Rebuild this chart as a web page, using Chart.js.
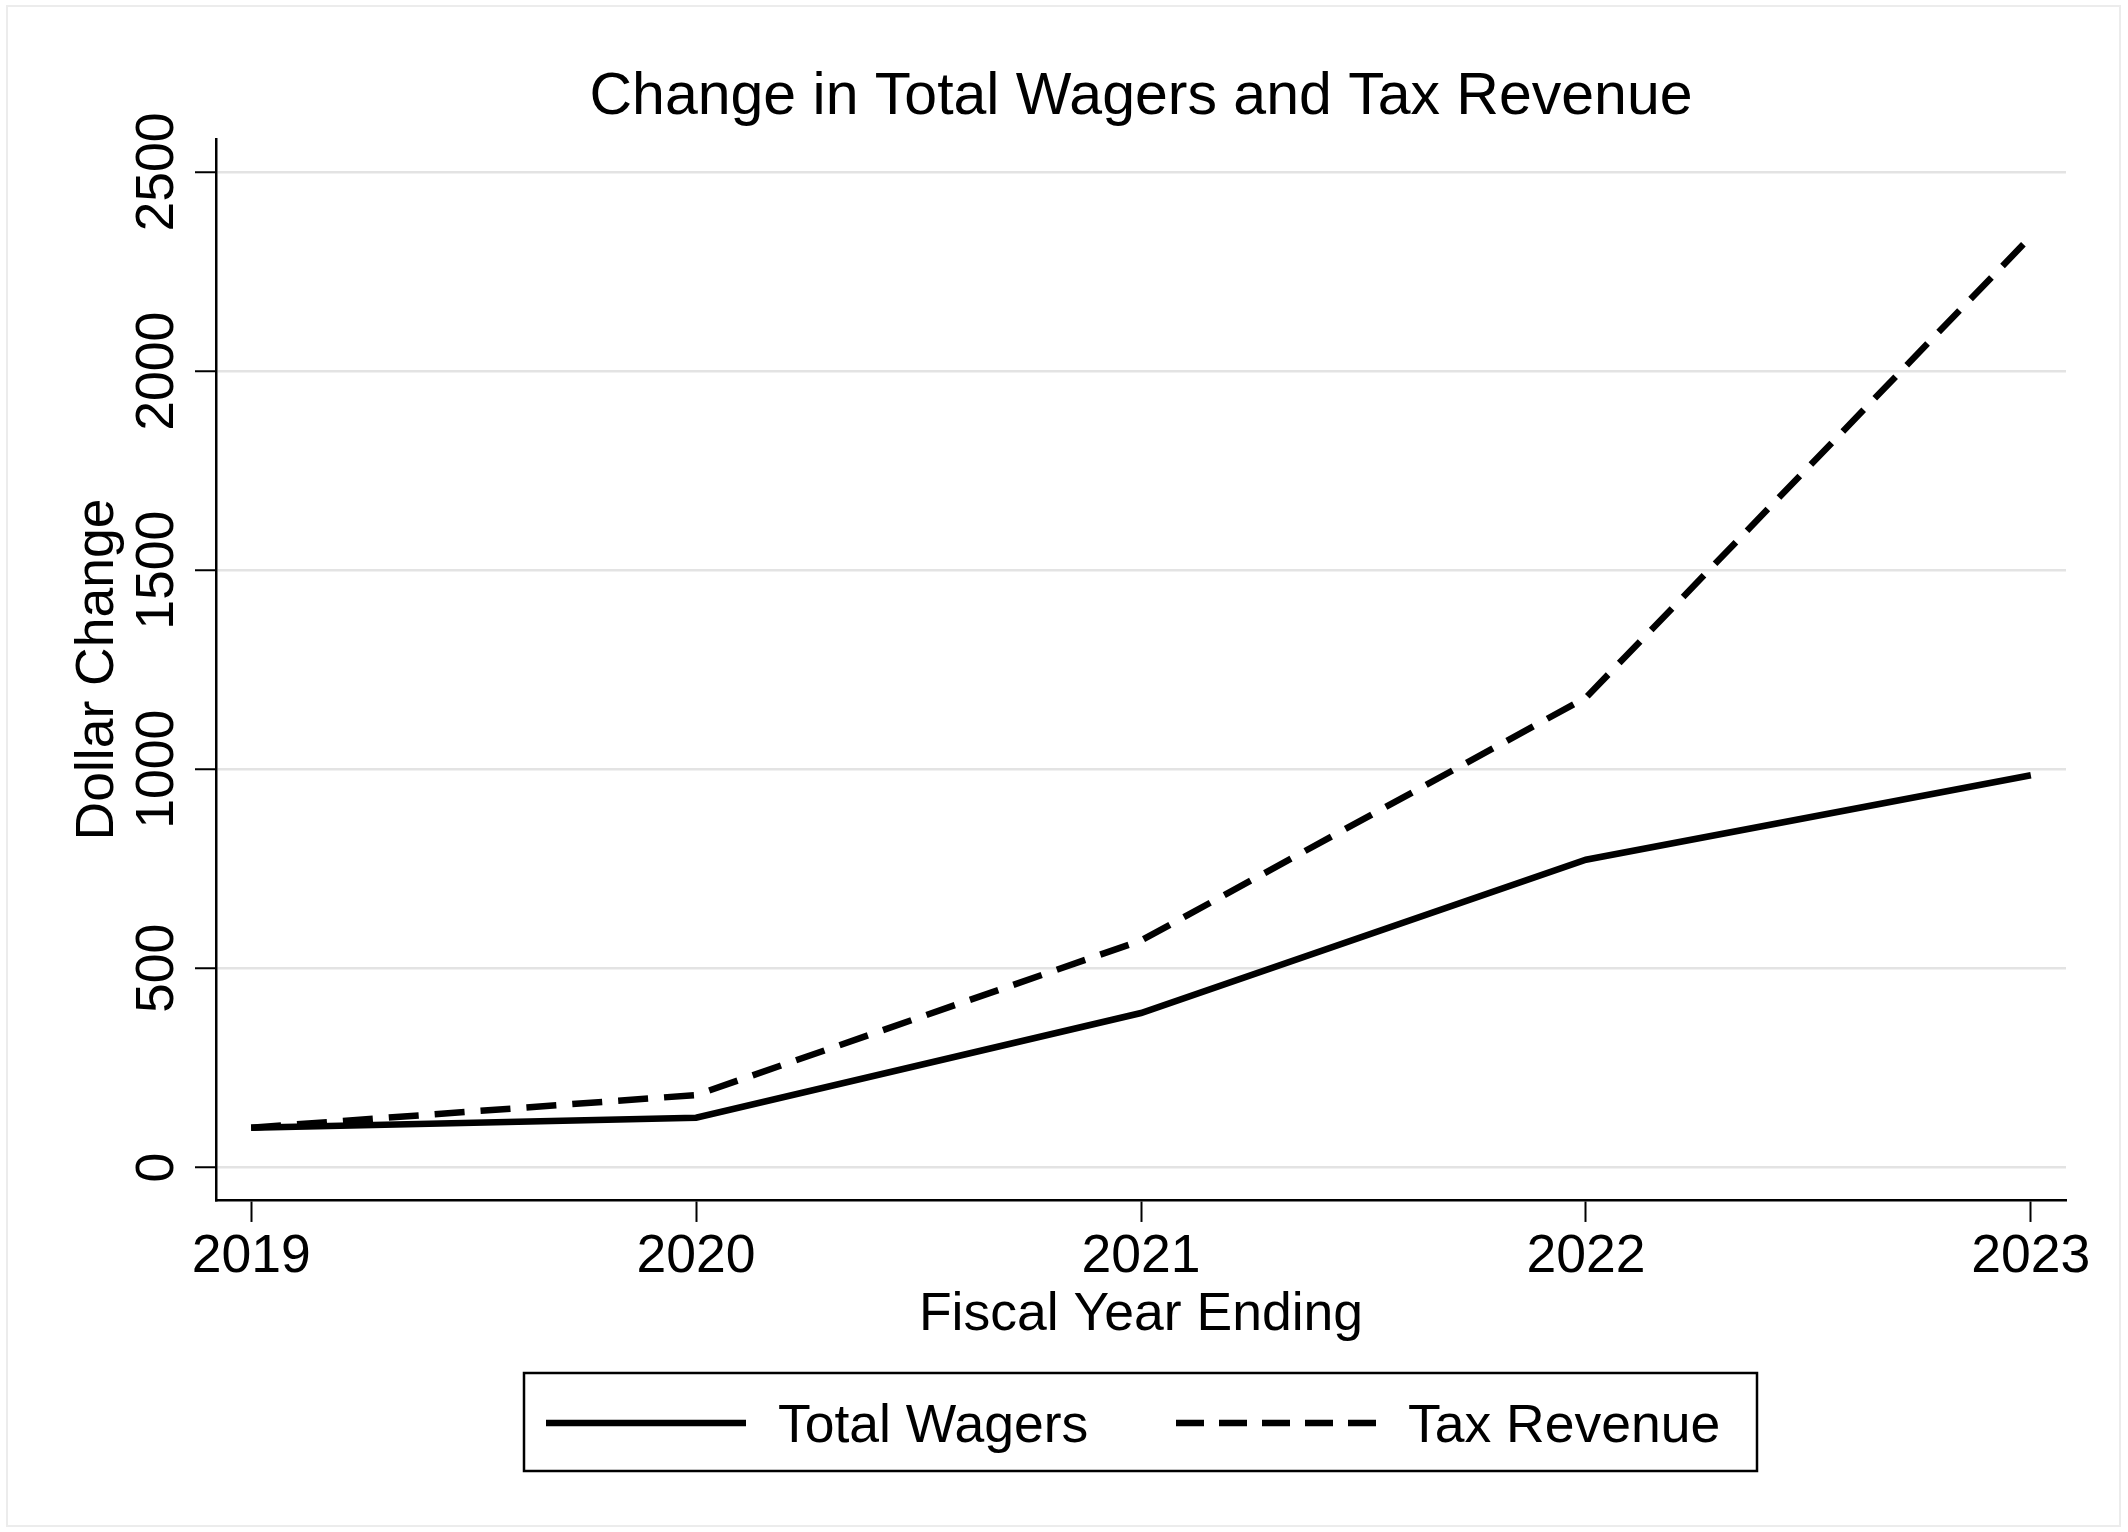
<!DOCTYPE html>
<html>
<head>
<meta charset="utf-8">
<title>Change in Total Wagers and Tax Revenue</title>
<script src="https://cdn.jsdelivr.net/npm/chart.js@4.4.1/dist/chart.umd.min.js"></script>
<style>
    html, body { margin: 0; padding: 0; background: #fff; overflow: hidden; }
    canvas { display: block; }
</style>
</head>
<body>
<canvas id="canvas" width="2128" height="1532"></canvas>
<script>
let years = [2019, 2020, 2021, 2022, 2023]
let totalWagers = [100, 125, 388, 773, 985]
let taxRevenue = [100, 182, 570, 1180, 2338]
let yTicks = [0, 500, 1000, 1500, 2000, 2500]
let seriesLabels = ['Total Wagers', 'Tax Revenue']

const fontFamily = "'Liberation Sans', Arial, Helvetica, sans-serif"
const textSize = 53.5

// light grey frame round the whole graph region (stata style)
const frameConfig = {
    id: 'frame',
    beforeDraw(chart) {
        const { ctx, width, height } = chart
        ctx.save()
        ctx.fillStyle = 'white'
        ctx.fillRect(0, 0, width, height)
        ctx.strokeStyle = '#ececec'
        ctx.lineWidth = 2
        ctx.strokeRect(7, 6, width - 15, height - 12)
        ctx.restore()
    }
}

// y tick labels are drawn turned 90 degrees, reading upwards
const yLabelsConfig = {
    id: 'yLabels',
    afterDraw(chart) {
        const { ctx, chartArea, scales: { y } } = chart
        ctx.save()
        ctx.fillStyle = 'black'
        ctx.font = textSize + 'px ' + fontFamily
        ctx.textAlign = 'center'
        ctx.textBaseline = 'alphabetic'
        yTicks.forEach(v => {
            ctx.save()
            ctx.translate(chartArea.left - 43, y.getPixelForValue(v))
            ctx.rotate(-Math.PI / 2)
            ctx.fillText(String(v), 0, 0)
            ctx.restore()
        })
        ctx.restore()
    }
}

// legend in a box under the axis title
const boxLegendConfig = {
    id: 'boxLegend',
    afterDraw(chart) {
        const { ctx, chartArea } = chart
        const cx = (chartArea.left + chartArea.right) / 2
        const top = 1373
        const bottom = 1471
        const mid = 1423
        ctx.save()
        ctx.strokeStyle = 'black'
        ctx.lineWidth = 2.5
        ctx.strokeRect(cx - 617, top, 1233, bottom - top)

        const items = [{ x: cx - 595, ds: 0, dash: [] }, { x: cx + 35, ds: 1, dash: [28, 15] }]
        items.forEach(it => {
            const ds = chart.data.datasets[it.ds]
            ctx.beginPath()
            ctx.strokeStyle = ds.borderColor
            ctx.lineWidth = ds.borderWidth
            ctx.lineCap = 'butt'
            ctx.setLineDash(it.dash)
            ctx.moveTo(it.x, mid)
            ctx.lineTo(it.x + 200, mid)
            ctx.stroke()
            ctx.setLineDash([])
            ctx.fillStyle = 'black'
            ctx.font = textSize + 'px ' + fontFamily
            ctx.textAlign = 'left'
            ctx.textBaseline = 'middle'
            ctx.fillText(ds.label, it.x + 232, mid + 4)
        })
        ctx.restore()
    }
}

let configChart = {
    type: 'line',
    plugins: [frameConfig, yLabelsConfig, boxLegendConfig],
    data: {
        datasets: [{
            label: seriesLabels[0],
            data: years.map((yr, i) => ({ x: yr, y: totalWagers[i] })),
            borderColor: 'black',
            backgroundColor: 'black',
            borderWidth: 6.5,
            pointRadius: 0,
            tension: 0,
            fill: false
        }, {
            label: seriesLabels[1],
            data: years.map((yr, i) => ({ x: yr, y: taxRevenue[i] })),
            borderColor: 'black',
            backgroundColor: 'black',
            borderWidth: 6.5,
            borderDash: [30, 16],
            pointRadius: 0,
            tension: 0,
            fill: false
        }]
    },
    options: {
        responsive: false,
        animation: false,
        devicePixelRatio: 1,
        events: [],
        layout: {
            padding: { top: 20, left: 40, right: 62, bottom: 185 }
        },
        plugins: {
            legend: { display: false },
            tooltip: { enabled: false },
            title: {
                display: true,
                text: 'Change in Total Wagers and Tax Revenue',
                color: 'black',
                fullSize: false,
                font: { family: fontFamily, size: 59, weight: 'normal', lineHeight: 1.2 },
                padding: { top: 42.6, bottom: 5.6 }
            }
        },
        scales: {
            x: {
                type: 'linear',
                min: 2018.921,
                max: 2023.079,
                afterBuildTicks: axis => { axis.ticks = years.map(v => ({ value: v })) },
                ticks: {
                    color: 'black',
                    font: { family: fontFamily, size: textSize, lineHeight: 1.1 },
                    padding: 6,
                    maxRotation: 0,
                    autoSkip: false,
                    callback: v => String(v)
                },
                grid: {
                    drawOnChartArea: false,
                    drawTicks: true,
                    tickLength: 22,
                    tickColor: 'black',
                    tickWidth: 2
                },
                border: { color: 'black', width: 2.5 },
                title: {
                    display: true,
                    text: 'Fiscal Year Ending',
                    color: 'black',
                    font: { family: fontFamily, size: textSize, lineHeight: 1.2 },
                    padding: { top: -10, bottom: 0 }
                }
            },
            y: {
                min: -81.5,
                max: 2583,
                afterBuildTicks: axis => { axis.ticks = yTicks.map(v => ({ value: v })) },
                ticks: { display: false },
                grid: {
                    color: '#e3e3e3',
                    lineWidth: 2.5,
                    drawTicks: true,
                    tickLength: 21,
                    tickColor: 'black',
                    tickWidth: 2
                },
                border: { color: 'black', width: 2.5 },
                title: {
                    display: true,
                    text: 'Dollar Change',
                    color: 'black',
                    font: { family: fontFamily, size: textSize, lineHeight: 1.2 },
                    padding: { top: 25.9, bottom: 64.9 }
                }
            }
        }
    }
}

const canvas = document.getElementById('canvas')
const myChart = new Chart(canvas, configChart)
</script>
</body>
</html>
